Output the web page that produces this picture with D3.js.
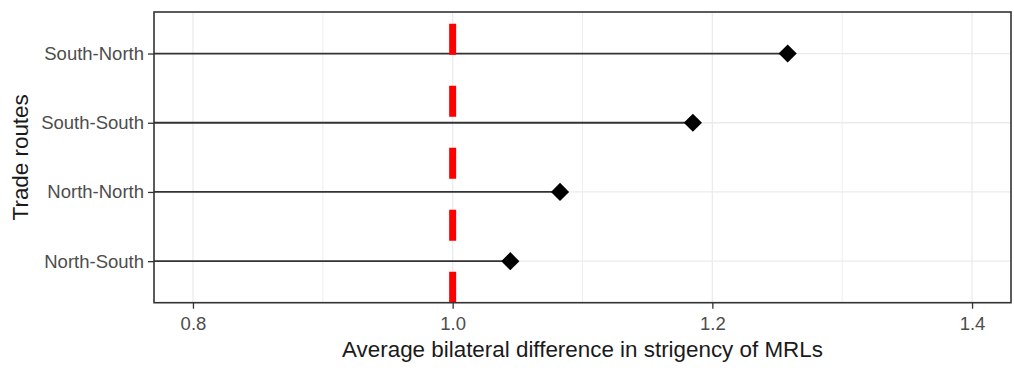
<!DOCTYPE html>
<html lang="en">
<head>
  <meta charset="UTF-8">
  <title>Trade routes MRL stringency</title>
  <script src="https://d3js.org/d3.v7.min.js"></script>
  <style>
  body { margin: 0; background: #fff; }
  text { font-family: "Liberation Sans", Arial, sans-serif; }
  </style>
</head>
<body>
<div id="chart"></div>
<script>
// data
const routes = ["North-South", "North-North", "South-South", "South-North"];
const stringency = [1.0444, 1.0827, 1.185, 1.258];
const xTicks = [0.8, 1.0, 1.2, 1.4];
const xMinor = [0.9, 1.1, 1.3];
const refValue = 1.0;

const w = 1014, h = 371;
const margin = {top: 12, right: 3, bottom: 68.3, left: 154};
const gw = w - margin.left - margin.right;
const gh = h - margin.top - margin.bottom;

const svg = d3.select("#chart").append("svg")
  .attr("width", w)
  .attr("height", h);

const graph = svg.append("g")
  .attr("transform", `translate(${margin.left},${margin.top})`);

const x = d3.scaleLinear().domain([0.77, 1.43]).range([0, gw]);
const y = d3.scalePoint().domain(routes).range([gh, 0]).padding(0.6);

// grid
graph.selectAll(".minor").data(xMinor).enter().append("line")
  .attr("x1", d => x(d)).attr("x2", d => x(d))
  .attr("y1", 0).attr("y2", gh)
  .attr("stroke", "#ebebeb").attr("stroke-width", 0.8);

graph.selectAll(".major").data(xTicks).enter().append("line")
  .attr("x1", d => x(d)).attr("x2", d => x(d))
  .attr("y1", 0).attr("y2", gh)
  .attr("stroke", "#ebebeb").attr("stroke-width", 1.3);

graph.selectAll(".hgrid").data(routes).enter().append("line")
  .attr("x1", 0).attr("x2", gw)
  .attr("y1", d => y(d)).attr("y2", d => y(d))
  .attr("stroke", "#ebebeb").attr("stroke-width", 1.3);

// segments
graph.selectAll(".seg").data(routes).enter().append("line")
  .attr("x1", 0)
  .attr("x2", (d, i) => x(stringency[i]))
  .attr("y1", d => y(d)).attr("y2", d => y(d))
  .attr("stroke", "#333333").attr("stroke-width", 1.8);

// points
const diamond = d3.symbol().type(d3.symbolSquare).size(165);
graph.selectAll(".pt").data(routes).enter().append("path")
  .attr("d", diamond)
  .attr("transform", (d, i) => `translate(${x(stringency[i])},${y(d)}) rotate(45)`)
  .attr("fill", "#000");

// reference line, dashes start from the bottom
graph.append("line")
  .attr("x1", x(refValue)).attr("x2", x(refValue))
  .attr("y1", gh).attr("y2", 0)
  .attr("stroke", "#ff0000").attr("stroke-width", 7)
  .attr("stroke-dasharray", "31 31");

// panel border
graph.append("rect")
  .attr("width", gw).attr("height", gh)
  .attr("fill", "none").attr("stroke", "#333333").attr("stroke-width", 1.6);

// axes
const xAxis = graph.append("g")
  .attr("transform", `translate(0,${gh})`)
  .call(d3.axisBottom(x).tickValues(xTicks).tickFormat(d3.format(".1f")).tickSize(6).tickPadding(4));

const yAxis = graph.append("g")
  .call(d3.axisLeft(y).tickSize(6).tickPadding(4));

[xAxis, yAxis].forEach(a => {
  a.select(".domain").remove();
  a.selectAll(".tick line").attr("stroke", "#333333").attr("stroke-width", 1.3);
  a.selectAll(".tick text")
    .attr("fill", "#4d4d4d")
    .style("font-size", "18.5px")
    .style("font-family", '"Liberation Sans", Arial, sans-serif');
});
xAxis.selectAll(".tick text").attr("dy", "0.95em");

// titles
svg.append("text")
  .attr("x", margin.left + gw / 2)
  .attr("y", 357)
  .attr("text-anchor", "middle")
  .style("font-size", "22.4px")
  .attr("fill", "#1a1a1a")
  .text("Average bilateral difference in strigency of MRLs");

svg.append("text")
  .attr("transform", `translate(28,${margin.top + gh / 2}) rotate(-90)`)
  .attr("text-anchor", "middle")
  .style("font-size", "22.4px")
  .attr("fill", "#1a1a1a")
  .text("Trade routes");
</script>
</body>
</html>
